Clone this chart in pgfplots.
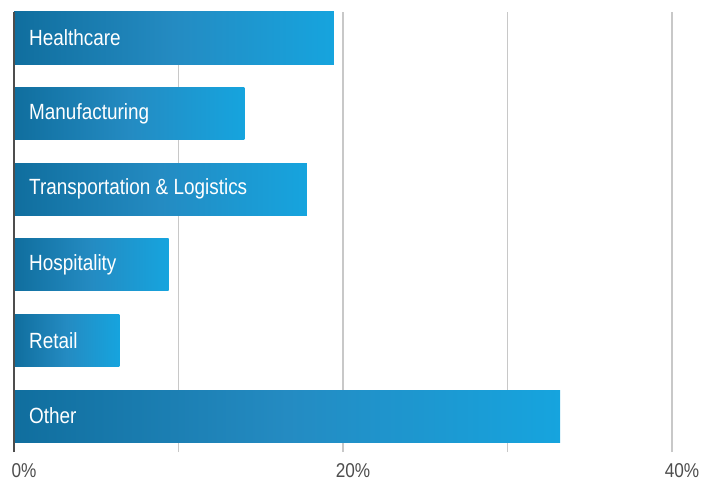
\documentclass[border=0pt]{standalone}
\usepackage{pgfplots}
\pgfplotsset{compat=1.18}
\usepackage{fontspec}
\setmainfont{Liberation Sans}[FakeStretch=0.86]
\definecolor{barL}{RGB}{16,110,158}
\definecolor{barM}{RGB}{36,139,194}
\definecolor{barR}{RGB}{22,164,222}
\definecolor{gridc}{RGB}{200,200,200}
\definecolor{axisc}{RGB}{77,77,77}
\pgfplotsset{
  layers/barsfirst/.define layer set={axis background,axis grid,axis ticks,pre main,main,axis lines,axis tick labels,axis descriptions,axis foreground}{/pgfplots/layers/standard},
  gradbar/.style={xbar, bar width=0.688, bar shift=0pt, draw=none,
    left color=barL, right color=barR, middle color=barM},
}
\begin{document}
\begin{tikzpicture}
\begin{axis}[
    set layers=barsfirst,
    at={(0,0)}, anchor=south west,
    width=658pt, height=440pt, scale only axis,
    clip=false,
    xmin=0, xmax=40,
    ymin=-0.476, ymax=5.344,
    axis line style={draw=none},
    xmajorgrids,
    grid style={gridc, line width=1.2pt},
    major tick length=0pt,
    xtick={0,10,20,30,40},
    xticklabels={0\%,,20\%,,40\%},
    xticklabel style={anchor=north, inner sep=0pt, xshift=10pt, yshift=-11pt,
      text=axisc, font=\fontsize{20}{24}\selectfont},
    ytick={0,1,2,3,4,5},
    yticklabels={Other, Retail, Hospitality, Transportation \& Logistics, Manufacturing, Healthcare},
    yticklabel style={anchor=west, inner sep=0pt, xshift=15pt,
      text=white, font=\fontsize{22}{26}\selectfont},
  ]
  % one plot per bar so each bar gets its own gradient
  \addplot[gradbar] coordinates {(33.2,0)};  % Other
  \addplot[gradbar] coordinates {(6.4,1)};   % Retail
  \addplot[gradbar] coordinates {(9.4,2)};   % Hospitality
  \addplot[gradbar] coordinates {(17.8,3)};  % Transportation & Logistics
  \addplot[gradbar] coordinates {(14.0,4)};  % Manufacturing
  \addplot[gradbar] coordinates {(19.45,5)}; % Healthcare
  \draw[axisc, line width=2pt] (rel axis cs:0,0) -- (rel axis cs:0,1);
\end{axis}
\pgfresetboundingbox
\useasboundingbox (-14pt,-31pt) rectangle (697pt,452pt);
\end{tikzpicture}
\end{document}
